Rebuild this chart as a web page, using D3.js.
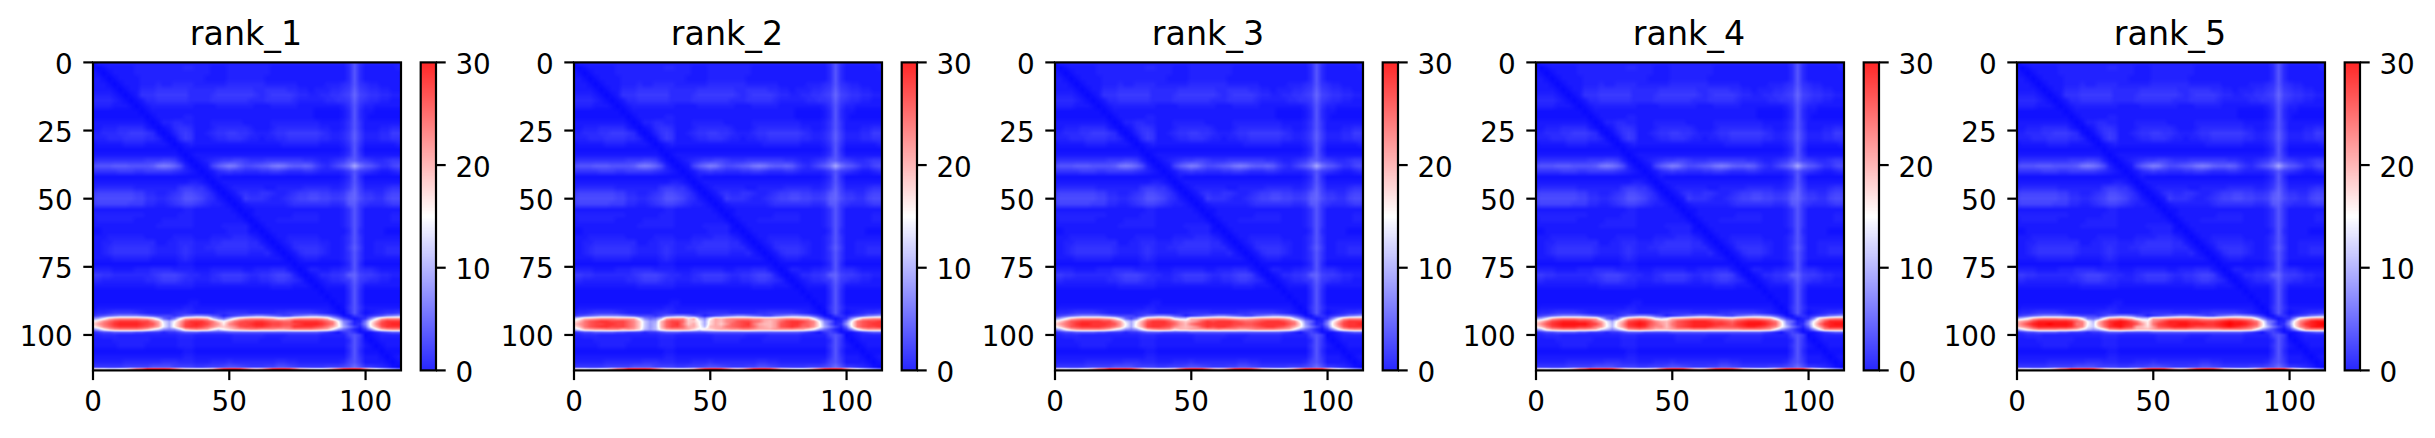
<!DOCTYPE html>
<html><head><meta charset="utf-8">
<script src="https://cdn.jsdelivr.net/npm/d3@7/dist/d3.min.js"></script>
<style>html,body{margin:0;padding:0;background:#fff}svg{display:block}text{font-family:"DejaVu Sans";fill:#000}</style>
</head><body><svg id="c" width="2435" height="438"></svg>
<script>
const titles = ["rank_1","rank_2","rank_3","rank_4","rank_5"];
const xTicks = [0,50,100];
const yTicks = [0,25,50,75,100];
const barTicks = [0,10,20,30];
const matrixSize = 113;
const barMax = 30;

// Values, every 2nd column (col = 2*i). Each character is base-36, in half units.
const upperFieldRows = [ // rows 0,2,...,92
"1444444444 4444444444 4444444444 4444444444 4444444 6a6 4444444",
"2123333344 4444444554 4433344444 4443333333 3333333 5a5 3333334",
"3212333344 4444444444 4433344444 4443333333 3333333 5a5 3333333",
"3321233334 4444444444 4333344444 4433333333 3333333 5a5 3333333",
"3332123334 4454455554 4444455555 5544444433 3334445 6a6 5443333",
"3333212335 5566666655 5556666666 5566665544 3444556 7b7 6554433",
"4444321236 6677777755 5567777777 6567777655 4455667 8c8 7665544",
"5555432123 5566666655 5566666665 5566666544 4445566 7b7 6554433",
"4444333212 3444444443 3334444444 3334444433 3333334 6a6 4433333",
"2222222221 2333333333 3333333333 3333333333 3222223 5a5 3322222",
"2222222222 1233333443 3333333333 3333333333 3222223 5a5 3222222",
"3333333333 2124455443 3344444433 3334444444 4433334 6a6 3333333",
"3344455555 3212356653 3345555554 3334555555 5544334 6a6 3334455",
"4455566777 6521246763 3456677665 4445667777 7765445 7b7 4445577",
"4445556666 5542125763 3345566654 4344556666 6655445 7b7 4445566",
"2333334444 3333212343 3333333333 3333344444 4433334 6a6 3333334",
"2222222222 2222221222 2222222222 2222222222 2222223 5a5 2222222",
"3333333333 3333332123 3333333333 3333333333 3333334 6a6 3333333",
"5666666666 7778874212 3456778876 6677777776 6544567 ab8 7655677",
"9aaabbbaaa abefec9421 238bdfeb99 abcefecbbc b86579b eke ba86689",
"6666677766 7777765432 1235676655 5667765556 6544445 7a7 6543345",
"2222222222 2222222222 2123222222 2222222222 2222223 5a5 2222222",
"3333333333 3333333344 3212333333 3333333333 3333334 6a6 3333333",
"4555555544 4444446776 6421234444 4433444445 5555445 7b7 4444566",
"7888888877 5544567998 7642123565 5665445677 8877667 ac8 6655788",
"8999999988 6655678aa9 8653212376 6654456788 9988778 bc9 7766899",
"7888888777 5544567887 6544321234 4444445666 6666556 ab7 6555677",
"3333333333 3333333443 3333332122 3333333333 3333334 6a6 3333333",
"4444444444 3333334443 3333333212 3333333444 4433334 6a6 3333344",
"3444444433 3334444443 3333333321 2333444444 4433334 6a6 3333344",
"3333333333 3344444443 3333444442 1233333333 3333334 6a6 3333333",
"2233333333 3333333333 3333344442 2123333333 3333333 5a5 3333222",
"3334444444 3333344443 3344445554 3212334444 4433334 6a6 3333333",
"3344555555 5533445554 4455666665 5321234555 5544334 6a6 3344444",
"3345666666 6544445654 4556666665 5532123566 6654334 7b7 3344555",
"3345666666 6544445654 4445555554 4453212356 6654334 6a6 3344555",
"3333444444 4333334543 3333333333 3333321234 4433334 6a6 3333333",
"2222222222 2222223332 2222222222 2222222122 2222223 5a5 2222222",
"4444333344 4555544443 3344444433 4445553212 4433445 6a6 5543333",
"7766555555 5678887655 4456777765 5667887421 2355667 bc8 7765544",
"5544444444 5567776554 4455666654 4556776542 1234556 7b7 6554433",
"3333333333 3344444443 3333333333 3334444333 2123333 6a6 3333333",
"2222222222 2222222222 2222222222 2222222222 2212222 5a5 2222222",
"2222222222 2222222222 2222222222 2222222222 2221222 5a5 2222222",
"2222222222 2222222233 2222222222 2222222222 2222122 5a5 2222222",
"2333333333 3333333443 3333333333 3333333333 3333212 6a6 3333333",
"4556777765 4444456654 4445566665 5555667777 7654321 5a5 2345667"
];
const lowerFieldRows = [ // rows 100,102,...,112
"4455544444 4444445554 4444445555 5544445555 5544444 8a7 1234444",
"3333444444 4333334443 3333334444 4333344444 4433333 5a6 2123333",
"3333344444 3333334443 3333333333 3333333333 3333333 6a6 3212333",
"2222222222 2222222332 2222222222 2222222222 2222222 5a5 2221222",
"3333333333 3333333443 3333333333 3333333333 3333333 6a6 3332123",
"4444445555 5556665554 4455565555 5555665544 4444445 8a7 3333212",
"7777778888 8aaaa88887 78889aa987 7788aa9877 7778889 ada 7765421"
];
// Rows below are base-36 in whole units.
const haloRow93 = "3456788887 6544434678 8754234567 8876544678 9987531 133 2345789";
const haloRow99 = "2344555544 3332334555 4444455555 5555555555 5543213 431 1123455";
const edgeRowBottom = "hgfeefgkoq uuuutplihg ghkptuutpl jlptuutpki gffhlpt uut nifdb97";
// Red band, rows 94..98, one block for each panel.
const bandRank1 = [
"8aejlmmmml khc647eklm lkc86afjlm mmlkhhjlmm mmljc84212 38ekmmm",
"fimoqrrrrq qnkdafkprr rpnifjnpqq rrqppoorrr rrqomf8622 7fkprrr",
"hlnprssssr qpleaglqrs rqnlgmoqqr ssrqqppqrs ssrpng9523 8gmqrss",
"fimoqrrrrq pnkeaglqrr qomjikmpqq rrqppoorrr rqpnkga742 6fkprrr",
"7afjlmmmml jfc878cjlm lkfcfhjklm mlllkklmmm mlkje96421 38ejlmm"];
const bandRank2 = [
"cfjklmmmll lke867bkmm mhkb8fkjlm mmmllkkklm mlkke84212 39eklmm",
"gjnpqrrqqq omic9ajoqq oiifahkjmn pqqonkjloq rrqomf8622 7fnpqqr",
"ilnpqqrrqq omic9bjoqr nikfahkilo pqrnkjjlpq rrpomg9523 9gnpqrr",
"gjnpqrrqqq omic9bjoqq okkgbjkkno pqqolkjlpq rqoolga742 6fnpqqr",
"bejkllmmmk lkhb9bhkll lkhehhjkkl lmmlkkklll lkkhe96421 38ejlll"];
const bandRank3 = [
"8aejlmmmml khc647eklm lkeccjjklm mmlkjjklmm mmljc84212 38ekmmm",
"fimpqrrrrq qnkdafkprr rpnkikmprq rrrqpoopqr rrqomf8622 7fkprrr",
"hlnprssrrr qplfaglqrr rqoljnpqrr rrrqqppqrr rrrpnh9523 8gmqrrs",
"fimpqrrrrq pnkeagkqrr qpmkjkmprq rrqpooopqr rqpnkga742 6fkprrr",
"7afjlmmmml jfc879ejlm mlhjjkkkll mlllkklmmm mlkje96421 38ejlmm"];
const bandRank4 = [
"9aekmnnnmm lkc647fkmn mjecejklmn nnnmlkjlmn nmlke84212 38hkmnn",
"gjnqrsssrr qnkeagkqrs rpmkjmpqrs ssrqqpoqrs ssrpng8622 7fkpsss",
"imprsttttt rqmfbhmrst spnljnpqrs sssrrqprst ttsqoh9523 8gnrstt",
"gjnqrsssrr qnlfbhlqrs rommjmpqrs ssrqpppqrs srqomgb742 6fkpsss",
"8bhklmmmll kjdb8bflmn mljjjklllm mmllllllmm mmlke96421 38elmmm"];
const bandRank5 = [
"acfkmnnnmm lke768flmn ljecckklmn nnnmlkklmn nmlke84212 39hkmnn",
"jlnqssssss romfbjorst sqnigmoqss ssrrqqqrst ssrpng8622 7gmpstt",
"knqsttuttt snnfckortt srplgnqrss ttsssrrstu ttsqoh9523 8hnrstu",
"jlnqssssss romecinrst rqkjhlpqrs ssrqqqqrst srqomgb742 6gmpstt",
"9dhkmmmmll kjeb9bflmn mljjjklllm mmllllllmm mmlke96421 38elmmm"];
const panelBands = [bandRank1, bandRank2, bandRank3, bandRank4, bandRank5];

const decode = (s, unit) => Array.from(s.replace(/ /g, ""), ch => parseInt(ch, 36) * unit);
function panelRows(band) {
  const rows = [];
  upperFieldRows.forEach((s, i) => rows.push({ at: i * 2, v: decode(s, 0.5) }));
  rows.push({ at: 93, v: decode(haloRow93, 1) });
  band.forEach((s, i) => rows.push({ at: 94 + i, v: decode(s, 1) }));
  rows.push({ at: 99, v: decode(haloRow99, 1) });
  lowerFieldRows.forEach((s, i) => rows.push({ at: 100 + i * 2, v: decode(s, 0.5) }));
  rows.push({ at: 112.25, v: decode(edgeRowBottom, 1) });
  return rows;
}

const side = 308, topY = 62.4, stepX = 481, left0 = 93, barGap = 327.7, barW = 15.3, tick = 9.7, sw = 2.2;
const svg = d3.select("#c");
const color = d3.scaleLinear().domain([0, barMax / 2, barMax]).range(["#0000ff", "#ffffff", "#ff0000"]).clamp(true);
const lut = d3.range(601).map(i => d3.rgb(color(i / 20)));
const x = d3.scaleLinear().domain([0, matrixSize]).range([0, side]);
const y = d3.scaleLinear().domain([0, matrixSize]).range([0, side]);
const bar = d3.scaleLinear().domain([0, barMax]).range([side, 0]);
const bis = d3.bisector(d => d.at).right;

function drawImage(rows) {
  const cv = document.createElement("canvas");
  cv.width = side * 2; cv.height = side * 2;
  const ctx = cv.getContext("2d"), im = ctx.createImageData(cv.width, cv.height);
  for (let py = 0; py < cv.height; py++) {
    const ry = y.invert((py + .5) / 2);
    let j = bis(rows, ry) - 1; j = Math.max(0, Math.min(rows.length - 2, j));
    const f = Math.max(0, Math.min(1, (ry - rows[j].at) / (rows[j + 1].at - rows[j].at)));
    const a = rows[j].v, b = rows[j + 1].v;
    for (let px = 0; px < cv.width; px++) {
      const cc = Math.min(56, x.invert((px + .5) / 2) / 2);
      const i0 = Math.min(55, Math.floor(cc)), g = cc - i0;
      const val = (a[i0] * (1 - g) + a[i0 + 1] * g) * (1 - f) + (b[i0] * (1 - g) + b[i0 + 1] * g) * f;
      const c = lut[Math.max(0, Math.min(600, Math.round(val * 20)))];
      const k = (py * cv.width + px) * 4;
      im.data[k] = c.r; im.data[k + 1] = c.g; im.data[k + 2] = c.b; im.data[k + 3] = 255;
    }
  }
  ctx.putImageData(im, 0, 0);
  return cv.toDataURL("image/png");
}

function styleAxis(g) {
  g.select(".domain").remove();
  g.selectAll(".tick line").attr("stroke", "#000").attr("stroke-width", sw);
  g.selectAll(".tick text").attr("font-family", "DejaVu Sans").attr("font-size", 27.8).attr("fill", "#000");
}

titles.forEach((title, p) => {
  const g = svg.append("g").attr("transform", `translate(${left0 + stepX * p},${topY})`);
  g.append("image").attr("width", side).attr("height", side).attr("preserveAspectRatio", "none").attr("href", drawImage(panelRows(panelBands[p])));
  g.append("rect").attr("width", side).attr("height", side).attr("fill", "none").attr("stroke", "#000").attr("stroke-width", sw);

  const ax = g.append("g").attr("transform", `translate(0,${side})`)
    .call(d3.axisBottom(x).tickValues(xTicks).tickFormat(d3.format("d")).tickSize(tick).tickPadding(tick).offset(0));
  styleAxis(ax);
  ax.selectAll(".tick text").attr("dy", null).attr("y", 41);
  const ay = g.append("g").call(d3.axisLeft(y).tickValues(yTicks).tickFormat(d3.format("d")).tickSize(tick).tickPadding(tick).offset(0));
  styleAxis(ay);
  ay.selectAll(".tick text").attr("dy", null).attr("y", 11.5).attr("x", -20.3);

  g.append("text").attr("x", side / 2 - 1).attr("y", -17).attr("text-anchor", "middle").attr("font-size", 33.3).text(title);

  const cb = g.append("g").attr("transform", `translate(${barGap},0)`);
  cb.selectAll("rect.s").data(d3.range(0, side)).join("rect").attr("class", "s")
    .attr("y", d => d).attr("width", barW).attr("height", 1.2)
    .attr("fill", d => color(bar.invert(d + .5)));
  cb.append("rect").attr("width", barW).attr("height", side).attr("fill", "none").attr("stroke", "#000").attr("stroke-width", sw);
  const ab = cb.append("g").attr("transform", `translate(${barW},0)`)
    .call(d3.axisRight(bar).tickValues(barTicks).tickFormat(d3.format("d")).tickSize(tick).tickPadding(tick).offset(0));
  styleAxis(ab);
  ab.selectAll(".tick text").attr("dy", null).attr("y", 11.5);
});
</script></body></html>
